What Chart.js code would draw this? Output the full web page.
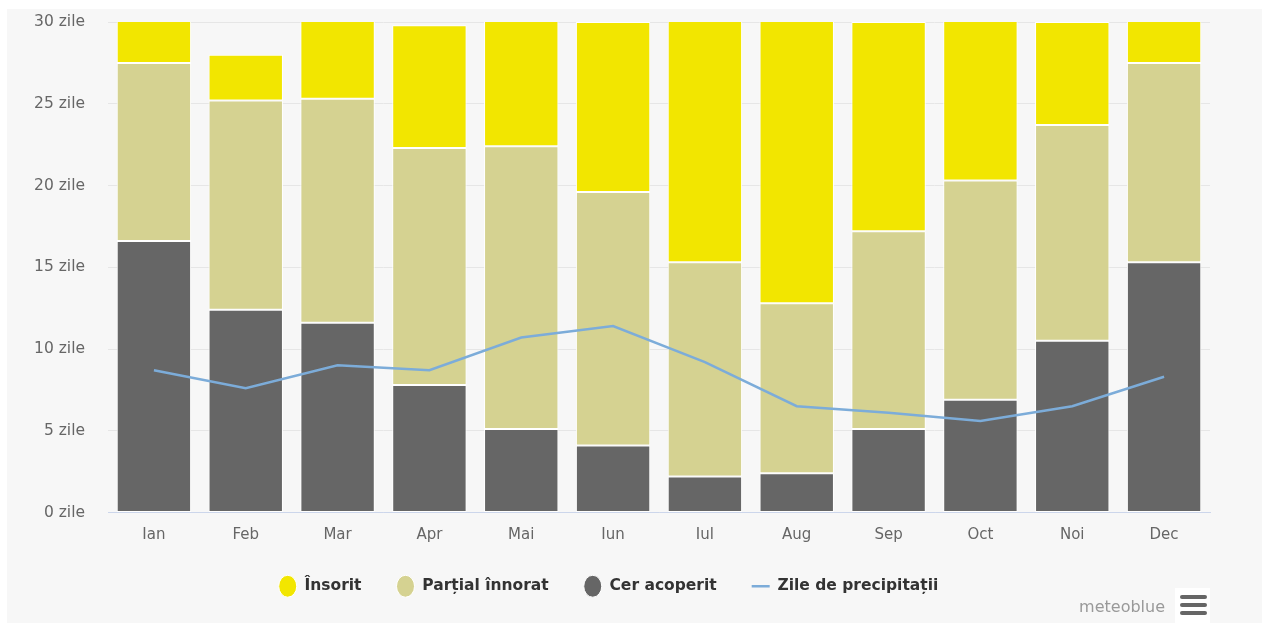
<!DOCTYPE html>
<html>
<head>
<meta charset="utf-8">
<script src="https://cdn.jsdelivr.net/npm/chart.js@4"></script>
<style>
  body { margin: 0; background: #fff; }
  #box { position: absolute; left: 7px; top: 9px; width: 1255px; height: 614px; background: #f7f7f7; overflow: hidden; }
  #credits { position: absolute; right: 97px; bottom: 7px; font: 16px "DejaVu Sans", sans-serif; color: #999; }
  #menu { position: absolute; left: 1168px; top: 579px; width: 27px; height: 40px; padding: 7px 3px 0 5px; background: #fff; }
  #menu div { height: 4px; background: #666; border-radius: 2px; margin-bottom: 4px; }
</style>
</head>
<body>
<div id="box">
  <canvas id="myChart" width="1255" height="614"></canvas>
  <div id="credits">meteoblue</div>
  <div id="menu"><div></div><div></div><div></div></div>
</div>
<script>
// dati (giorni al mese)
const mesi = ['Ian', 'Feb', 'Mar', 'Apr', 'Mai', 'Iun', 'Iul', 'Aug', 'Sep', 'Oct', 'Noi', 'Dec'];
const insorit = [3.5, 2.8, 5.7, 7.5, 8.6, 10.4, 15.7, 18.2, 12.8, 10.7, 6.3, 3.5];
const partial = [10.9, 12.8, 13.7, 14.5, 17.3, 15.5, 13.1, 10.4, 12.1, 13.4, 13.2, 12.2];
const acoperit = [16.6, 12.4, 11.6, 7.8, 5.1, 4.1, 2.2, 2.4, 5.1, 6.9, 10.5, 15.3];
const precipitatii = [8.7, 7.6, 9.0, 8.7, 10.7, 11.4, 9.2, 6.5, 6.1, 5.6, 6.5, 8.3];
const yTicks = [0, 5, 10, 15, 20, 25, 30];
// ordine nella legenda
const ordineLegenda = ['Însorit', 'Parțial înnorat', 'Cer acoperit', 'Zile de precipitații'];

const ctx = document.getElementById('myChart');

const barStyle = {
  type: 'bar',
  borderColor: '#ffffff',
  borderWidth: 1,
  borderSkipped: false,
  pointStyle: 'circle',
  barPercentage: 0.81,
  categoryPercentage: 1,
  order: 2
};

// setup: le barre scure stanno in basso, quindi vanno per prime
const data = {
  labels: mesi,
  datasets: [
    { ...barStyle, label: 'Cer acoperit', data: acoperit, backgroundColor: '#666666' },
    { ...barStyle, label: 'Parțial înnorat', data: partial, backgroundColor: '#d5d291' },
    { ...barStyle, label: 'Însorit', data: insorit, backgroundColor: '#f2e600' },
    {
      type: 'line', label: 'Zile de precipitații', data: precipitatii,
      borderColor: '#7cacd9', backgroundColor: '#7cacd9', borderWidth: 2.5,
      pointRadius: 0, pointStyle: 'line', tension: 0, stack: 'linea', order: 1
    }
  ]
};

new Chart(ctx, {
  data,
  options: {
    responsive: false,
    animation: false,
    layout: { padding: { top: 13, right: 52, bottom: 19, left: 0 } },
    plugins: {
      tooltip: { enabled: false },
      legend: {
        position: 'bottom',
        labels: {
          usePointStyle: true,
          boxHeight: 16,
          pointStyleWidth: 18,
          padding: 35,
          color: '#333',
          font: { family: 'DejaVu Sans', size: 15.5, weight: 'bold' },
          sort: (a, b) => ordineLegenda.indexOf(a.text) - ordineLegenda.indexOf(b.text)
        }
      }
    },
    scales: {
      x: {
        stacked: true,
        grid: { display: false, drawTicks: false },
        border: { color: '#ccd6eb' },
        ticks: { color: '#666', padding: 14, font: { family: 'DejaVu Sans', size: 15 } },
        afterFit: (axis) => { axis.height = 31; }
      },
      y: {
        stacked: true,
        min: 0,
        max: 30,
        afterBuildTicks: (axis) => { axis.ticks = yTicks.map(v => ({ value: v })); },
        grid: { color: '#e6e6e6', drawTicks: false },
        border: { display: false },
        ticks: {
          color: '#666', padding: 23,
          font: { family: 'DejaVu Sans', size: 15.5 },
          callback: (v) => v + ' zile'
        },
        afterFit: (axis) => {
          axis.width = 101;
          axis.paddingTop = 0;
          axis.paddingBottom = 0;
        }
      }
    }
  }
});
</script>
</body>
</html>
